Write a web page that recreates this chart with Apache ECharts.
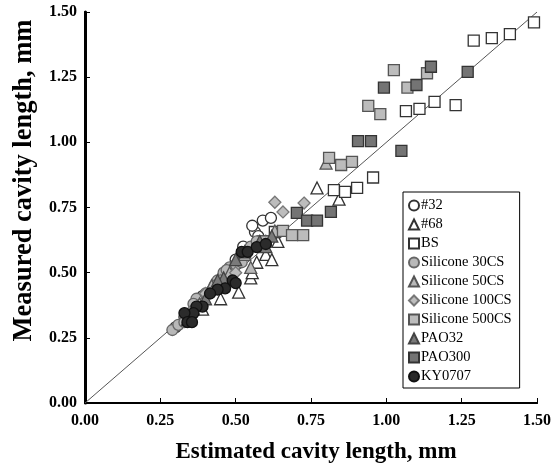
<!DOCTYPE html>
<html><head><meta charset="utf-8">
<script src="https://cdn.jsdelivr.net/npm/echarts@6/dist/echarts.min.js"></script>
<style>html,body{margin:0;padding:0;background:#fff}#c{width:559px;height:463px}</style>
</head><body><div id="c"></div>
<script>
const xTicks = [0, 0.25, 0.5, 0.75, 1.0, 1.25, 1.5];
const refLine = [[0, 0], [1.5, 1.5]];
const s32 = [[0.59,0.70],[0.617,0.71],[0.564,0.656],[0.575,0.64],[0.555,0.68],[0.525,0.60],[0.46,0.47],[0.39,0.41],[0.33,0.33],[0.30,0.29],[0.50,0.55]];
const s68 = [[0.77,0.825],[0.843,0.782],[0.55,0.48],[0.51,0.425],[0.555,0.50],[0.60,0.57],[0.64,0.62],[0.45,0.40],[0.39,0.36],[0.62,0.55],[0.57,0.54]];
const sBS = [[1.49,1.46],[1.41,1.415],[1.35,1.40],[1.29,1.39],[1.23,1.143],[1.16,1.155],[1.11,1.128],[1.065,1.12],[0.956,0.865],[0.826,0.817],[0.863,0.81],[0.903,0.825],[0.63,0.656],[0.59,0.62]];
const sSi30 = [[0.29,0.28],[0.31,0.30],[0.33,0.31],[0.35,0.34],[0.37,0.40],[0.40,0.42],[0.42,0.43],[0.44,0.47],[0.46,0.50],[0.48,0.52],[0.50,0.53],[0.52,0.54],[0.55,0.60],[0.57,0.62],[0.36,0.38],[0.39,0.38],[0.43,0.45],[0.47,0.51]];
const sSi50 = [[0.80,0.92],[0.55,0.52],[0.48,0.50],[0.42,0.45],[0.38,0.38],[0.60,0.62],[0.63,0.66],[0.53,0.57]];
const sSi100 = [[0.63,0.77],[0.657,0.733],[0.727,0.767],[0.50,0.50],[0.45,0.47],[0.40,0.42],[0.35,0.35]];
const sSi500 = [[1.025,1.277],[1.135,1.265],[1.07,1.21],[0.94,1.14],[0.98,1.108],[0.81,0.94],[0.85,0.913],[0.886,0.925],[0.657,0.66],[0.687,0.644],[0.724,0.644],[0.60,0.62]];
const sPAO32 = [[0.58,0.62],[0.60,0.60],[0.53,0.58],[0.50,0.55],[0.46,0.48],[0.44,0.47],[0.40,0.40],[0.36,0.36],[0.34,0.32],[0.62,0.64]];
const sPAO300 = [[1.27,1.27],[1.148,1.29],[1.10,1.22],[0.992,1.21],[0.906,1.005],[0.949,1.005],[1.05,0.967],[0.703,0.729],[0.737,0.70],[0.77,0.70],[0.816,0.733]];
const sKY = [[0.52,0.58],[0.54,0.58],[0.57,0.598],[0.60,0.61],[0.49,0.47],[0.465,0.44],[0.44,0.435],[0.50,0.46],[0.415,0.42],[0.39,0.37],[0.37,0.37],[0.36,0.345],[0.33,0.345],[0.34,0.31],[0.355,0.31]];

const font = 'Liberation Serif';
function sc(name, data, symbol, fill, border, size) {
  return { name, type: 'scatter', data, symbol, symbolSize: size,
    itemStyle: { color: fill, borderColor: border, borderWidth: 1.3, opacity: 1 } };
}
const chart = echarts.init(document.getElementById('c'));
const axisCommon = {
  min: 0, max: 1.5, interval: 0.25,
  axisLine: { show: true, onZero: false, lineStyle: { color: '#000', width: 2 } },
  axisTick: { show: true, inside: true, length: 5, lineStyle: { color: '#000', width: 1 } },
  splitLine: { show: false },
  axisLabel: { fontFamily: font, fontWeight: 'bold', fontSize: 16, color: '#000', formatter: v => v.toFixed(2) },
  nameLocation: 'middle',
  nameTextStyle: { fontFamily: font, fontWeight: 'bold', color: '#000' }
};
chart.setOption({
  animation: false,
  grid: { left: 85, right: 22, top: 12, bottom: 60, containLabel: false, outerBoundsMode: 'none' },
  xAxis: [
    Object.assign({}, axisCommon, { type: 'value', name: 'Estimated cavity length, mm', nameGap: 38,
      nameTextStyle: Object.assign({}, axisCommon.nameTextStyle, { fontSize: 23, padding: [0, 0, 0, 10] }),
      axisLabel: Object.assign({}, axisCommon.axisLabel, { margin: 10 }) }),
    { type: 'value', position: 'top', min: 0, max: 1.5, axisLine: { show: true, lineStyle: { color: '#000', width: 2 } }, axisTick: { show: false }, axisLabel: { show: false }, splitLine: { show: false } }
  ],
  yAxis: [
    Object.assign({}, axisCommon, { type: 'value', name: 'Measured cavity length, mm', nameGap: 47,
      nameTextStyle: Object.assign({}, axisCommon.nameTextStyle, { fontSize: 26.5, padding: [0, 0, 0, 54] }),
      axisLabel: Object.assign({}, axisCommon.axisLabel, { margin: 8 }) }),
    { type: 'value', position: 'right', min: 0, max: 1.5, axisLine: { show: true, lineStyle: { color: '#000', width: 3 } }, axisTick: { show: false }, axisLabel: { show: false }, splitLine: { show: false } }
  ],
  legend: {
    orient: 'vertical', left: 403, top: 192, selectedMode: false,
    data: ['#32','#68','BS','Silicone 30CS','Silicone 50CS','Silicone 100CS','Silicone 500CS','PAO32','PAO300','KY0707'],
    itemWidth: 10, itemHeight: 10, itemGap: 4.0,
    padding: [6, 8, 4, 5],
    backgroundColor: '#fff', borderColor: '#000', borderWidth: 1,
    textStyle: { fontFamily: font, fontSize: 14.5, color: '#000', lineHeight: 15, padding: [0, 0, 0, -3] }
  },
  series: [
    { type: 'line', data: refLine, symbol: 'none', silent: true, lineStyle: { color: '#555', width: 1 }, z: 1 },
    sc('#32', s32, 'circle', '#fff', '#333', 11),
    sc('#68', s68, 'triangle', '#fff', '#333', 12),
    sc('BS', sBS, 'rect', '#fff', '#333', 11),
    sc('Silicone 30CS', sSi30, 'circle', '#b8b8b8', '#666', 11),
    sc('Silicone 50CS', sSi50, 'triangle', '#b8b8b8', '#555', 12),
    sc('Silicone 100CS', sSi100, 'diamond', '#bdbdbd', '#777', 12),
    sc('Silicone 500CS', sSi500, 'rect', '#bcbcbc', '#555', 11),
    sc('PAO32', sPAO32, 'triangle', '#7a7a7a', '#444', 12),
    sc('PAO300', sPAO300, 'rect', '#747474', '#333', 11),
    sc('KY0707', sKY, 'circle', '#2b2b2b', '#111', 11)
  ]
});
</script></body></html>
